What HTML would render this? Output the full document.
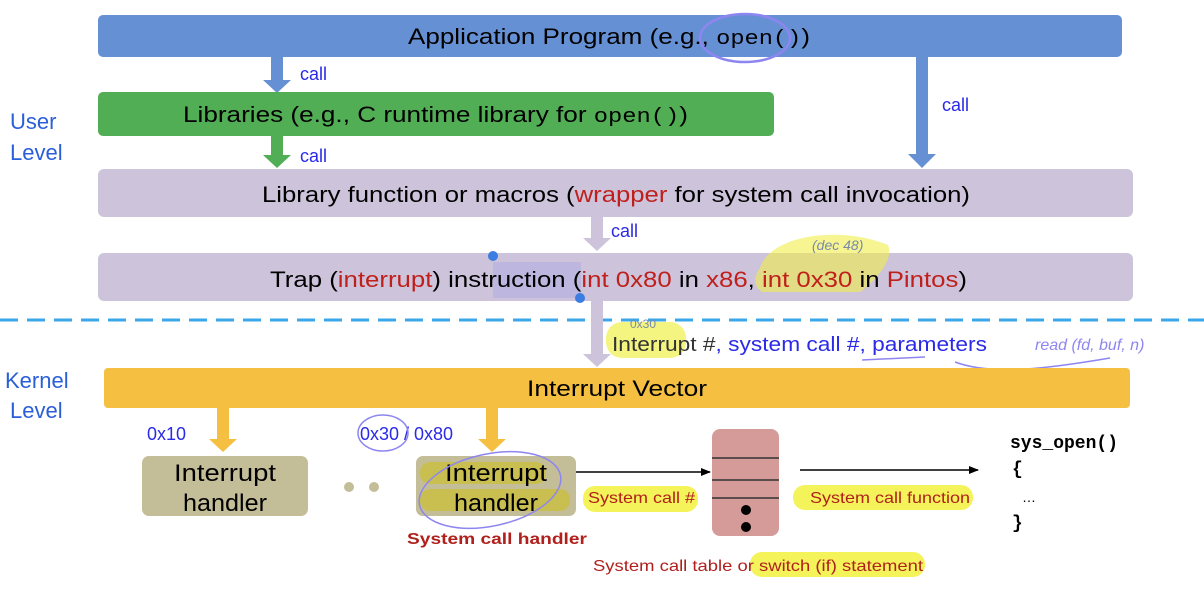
<!DOCTYPE html>
<html><head><meta charset="utf-8"><style>
html,body{margin:0;padding:0;background:#fff;}
svg{display:block;}
text{font-family:"Liberation Sans",sans-serif;}
.m{font-family:"Liberation Mono",monospace;}
</style></head><body>
<svg width="1204" height="592" viewBox="0 0 1204 592" xmlns="http://www.w3.org/2000/svg">
<defs>
<marker id="ah" markerWidth="10" markerHeight="8" refX="9" refY="4" orient="auto" markerUnits="userSpaceOnUse"><path d="M0,0 L10,4 L0,8 z" fill="#000"/></marker>
</defs>
<rect x="98" y="15" width="1024" height="42" rx="5" fill="#6690d4"/>
<text x="408" y="44" font-size="22" textLength="402" lengthAdjust="spacingAndGlyphs">Application Program (e.g., <tspan class="m" font-size="20">open()</tspan>)</text>
<ellipse cx="745" cy="38" rx="45" ry="24" fill="none" stroke="#8e86f0" stroke-width="2.5"/>
<rect x="271" y="57" width="12" height="24" fill="#6690d4"/><path d="M263,80 L291,80 L277,93 z" fill="#6690d4"/>
<rect x="916" y="57" width="12" height="98" fill="#6690d4"/><path d="M908,154 L936,154 L922,168 z" fill="#6690d4"/>
<rect x="98" y="92" width="676" height="44" rx="5" fill="#52ae55"/>
<text x="183" y="122" font-size="22" textLength="505" lengthAdjust="spacingAndGlyphs">Libraries (e.g., C runtime library for <tspan class="m" font-size="20">open()</tspan>)</text>
<rect x="271" y="136" width="12" height="20" fill="#52ae55"/><path d="M263,155 L291,155 L277,168 z" fill="#52ae55"/>
<rect x="98" y="169" width="1035" height="48" rx="6" fill="#cdc4db"/>
<text x="262" y="202" font-size="22" textLength="708" lengthAdjust="spacingAndGlyphs">Library function or macros (<tspan fill="#c0201c">wrapper</tspan> for system call invocation)</text>
<rect x="591" y="217" width="12" height="22" fill="#cdc4db"/><path d="M583,238 L611,238 L597,251 z" fill="#cdc4db"/>
<rect x="98" y="253" width="1035" height="48" rx="6" fill="#cdc4db"/>
<path d="M760,268 C770,235 840,225 888,245 C895,262 870,285 860,292 L762,292 C752,285 755,275 760,268 z" fill="#f0ef4a" opacity="0.6"/>
<rect x="493" y="262" width="88" height="36" fill="#b7b2e2" opacity="0.7"/>
<text x="270" y="287" font-size="22" textLength="697" lengthAdjust="spacingAndGlyphs">Trap (<tspan fill="#c0201c">interrupt</tspan>) instruction (<tspan fill="#c0201c">int 0x80</tspan> in <tspan fill="#c0201c">x86</tspan>, <tspan fill="#c0201c">int 0x30</tspan> in <tspan fill="#c0201c">Pintos</tspan>)</text>
<text x="812" y="250" font-size="14" fill="#7a8aa8" font-style="italic">(dec 48)</text>
<circle cx="493" cy="256" r="5" fill="#3b7de0"/><circle cx="580" cy="298" r="5" fill="#3b7de0"/>
<line x1="0" y1="320" x2="1204" y2="320" stroke="#3aa8e8" stroke-width="3" stroke-dasharray="18,9"/>
<rect x="591" y="301" width="12" height="54" fill="#cdc4db"/><path d="M583,354 L611,354 L597,367 z" fill="#cdc4db"/>
<text x="300" y="80" font-size="18" fill="#2a2ae8">call</text>
<text x="942" y="111" font-size="18" fill="#2a2ae8">call</text>
<text x="300" y="162" font-size="18" fill="#2a2ae8">call</text>
<text x="611" y="237" font-size="18" fill="#2a2ae8">call</text>
<text x="10" y="129" font-size="22" fill="#2a5fd8">User</text>
<text x="10" y="160" font-size="22" fill="#2a5fd8">Level</text>
<text x="5" y="388" font-size="22" fill="#2a5fd8">Kernel</text>
<text x="10" y="418" font-size="22" fill="#2a5fd8">Level</text>
<rect x="606" y="322" width="80" height="36" rx="16" fill="#f0ef4a" opacity="0.7"/>
<text x="630" y="328" font-size="12" fill="#7a8aa8">0x30</text>
<text x="612" y="351" font-size="20" textLength="375" lengthAdjust="spacingAndGlyphs"><tspan fill="#333">Interrupt #</tspan><tspan fill="#2a2ae8">, system call #, parameters</tspan></text>
<path d="M862,360 L925,357 M955,362 C990,375 1040,370 1110,358" stroke="#8e86f0" fill="none" stroke-width="1.5"/>
<text x="1035" y="350" font-size="16" fill="#8e86f0" font-style="italic">read (fd, buf, n)</text>
<rect x="104" y="368" width="1026" height="40" rx="4" fill="#f5c042"/>
<text x="527" y="396" font-size="22" textLength="180" lengthAdjust="spacingAndGlyphs">Interrupt Vector</text>
<rect x="217" y="408" width="12" height="32" fill="#f5c042"/><path d="M209,439 L237,439 L223,452 z" fill="#f5c042"/>
<rect x="486" y="408" width="12" height="32" fill="#f5c042"/><path d="M478,439 L506,439 L492,452 z" fill="#f5c042"/>
<text x="147" y="440" font-size="18" fill="#2a2ae8">0x10</text>
<text x="360" y="440" font-size="18" fill="#2a2ae8">0x30 / 0x80</text>
<ellipse cx="383" cy="433" rx="25" ry="18" fill="none" stroke="#8e86f0" stroke-width="1.5"/>
<rect x="142" y="456" width="166" height="60" rx="7" fill="#c3bd98"/>
<text x="225" y="481" font-size="24" text-anchor="middle" textLength="102" lengthAdjust="spacingAndGlyphs">Interrupt</text>
<text x="225" y="511" font-size="24" text-anchor="middle" textLength="84" lengthAdjust="spacingAndGlyphs">handler</text>
<circle cx="349" cy="487" r="5" fill="#c3bd98"/><circle cx="374" cy="487" r="5" fill="#c3bd98"/>
<rect x="416" y="456" width="160" height="60" rx="7" fill="#c3bd98"/>
<rect x="420" y="462" width="126" height="22" rx="10" fill="#c8bf50"/>
<rect x="420" y="489" width="150" height="22" rx="10" fill="#c8bf50"/>
<text x="496" y="481" font-size="24" text-anchor="middle" textLength="102" lengthAdjust="spacingAndGlyphs">Interrupt</text>
<text x="496" y="511" font-size="24" text-anchor="middle" textLength="84" lengthAdjust="spacingAndGlyphs">handler</text>
<ellipse cx="490" cy="490" rx="72" ry="36" fill="none" stroke="#8e86f0" stroke-width="1.5" transform="rotate(-12 490 490)"/>
<text x="407" y="544" font-size="16" font-weight="bold" fill="#b0201c" textLength="180" lengthAdjust="spacingAndGlyphs">System call handler</text>
<line x1="576" y1="472" x2="710" y2="472" stroke="#000" stroke-width="1.5" marker-end="url(#ah)"/>
<rect x="583" y="486" width="115" height="26" rx="12" fill="#f5f35a"/>
<text x="588" y="503" font-size="16" fill="#b0201c" textLength="107" lengthAdjust="spacingAndGlyphs">System call #</text>
<rect x="712" y="429" width="67" height="107" rx="8" fill="#d49b98"/>
<line x1="712" y1="458" x2="779" y2="458" stroke="#333" stroke-width="1.5"/>
<line x1="712" y1="480" x2="779" y2="480" stroke="#333" stroke-width="1.5"/>
<line x1="712" y1="498" x2="779" y2="498" stroke="#333" stroke-width="1.5"/>
<circle cx="746" cy="510" r="5" fill="#000"/><circle cx="746" cy="527" r="5" fill="#000"/>
<line x1="800" y1="470" x2="978" y2="470" stroke="#000" stroke-width="1.5" marker-end="url(#ah)"/>
<rect x="793" y="485" width="180" height="25" rx="12" fill="#f5f35a"/>
<text x="810" y="503" font-size="16" fill="#b0201c" textLength="160" lengthAdjust="spacingAndGlyphs">System call function</text>
<rect x="750" y="552" width="175" height="25" rx="12" fill="#f5f35a"/>
<text x="593" y="571" font-size="16" fill="#b0201c" textLength="330" lengthAdjust="spacingAndGlyphs">System call table or switch (if) statement</text>
<text x="1010" y="448" font-size="18" font-weight="bold" class="m">sys_open()</text>
<text x="1012" y="474" font-size="18" font-weight="bold" class="m">{</text>
<text x="1022" y="502" font-size="14">…</text>
<text x="1012" y="528" font-size="18" font-weight="bold" class="m">}</text>
</svg>
</body></html>
